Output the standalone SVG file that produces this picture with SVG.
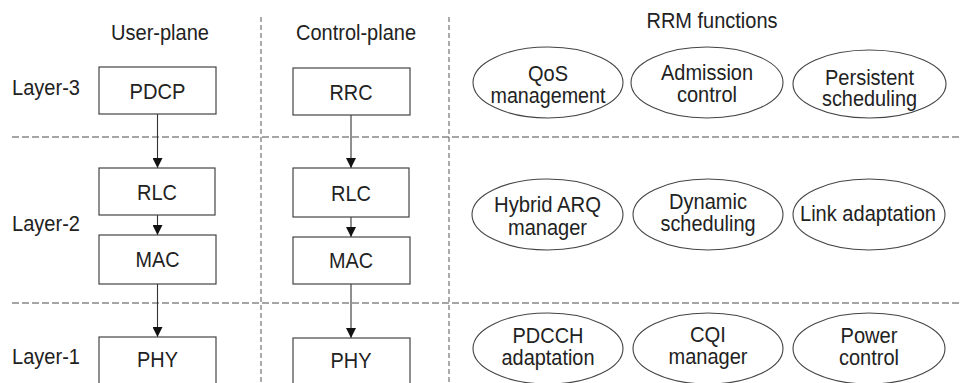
<svg xmlns="http://www.w3.org/2000/svg" width="960" height="383" viewBox="0 0 960 383">
<defs>
<style>
text{font-family:"Liberation Sans",Arial,sans-serif;font-size:22px;fill:#222;}
.c{text-anchor:middle;}
.box{fill:#fff;stroke:#444;stroke-width:1.2;}
.ell{fill:#fff;stroke:#444;stroke-width:1.1;}
.hd{stroke:#888;stroke-width:1.3;stroke-dasharray:7 3;fill:none;}
.vd{stroke:#555;stroke-width:1;stroke-dasharray:5 3;fill:none;}
.arr{stroke:#333;stroke-width:1.1;fill:none;marker-end:url(#ah);}
</style>
<marker id="ah" viewBox="0 0 10 10" refX="10" refY="5" markerWidth="10" markerHeight="10" markerUnits="userSpaceOnUse" orient="auto">
<path d="M0,0 L10,5 L0,10 z" fill="#111"/>
</marker>
</defs>
<g id="grid">
<line class="hd" x1="12" y1="137" x2="960" y2="137"/>
<line class="hd" x1="12" y1="303" x2="960" y2="303"/>
<line class="vd" x1="261" y1="17" x2="261" y2="383"/>
<line class="vd" x1="449" y1="17" x2="449" y2="383"/>
</g>
<g id="headers">
<text class="c" x="160" y="40" textLength="98" lengthAdjust="spacingAndGlyphs">User-plane</text>
<text class="c" x="356" y="40" textLength="120" lengthAdjust="spacingAndGlyphs">Control-plane</text>
<text class="c" x="712" y="28" textLength="131" lengthAdjust="spacingAndGlyphs">RRM functions</text>
<text x="12" y="95" textLength="68" lengthAdjust="spacingAndGlyphs">Layer-3</text>
<text x="12" y="231" textLength="68" lengthAdjust="spacingAndGlyphs">Layer-2</text>
<text x="12" y="364" textLength="68" lengthAdjust="spacingAndGlyphs">Layer-1</text>
</g>
<g id="connectors">
<line class="arr" x1="157.5" y1="114" x2="157.5" y2="168"/>
<line class="arr" x1="351" y1="115" x2="351" y2="168"/>
<line class="arr" x1="157.5" y1="215" x2="157.5" y2="235"/>
<line class="arr" x1="351" y1="217" x2="351" y2="237"/>
<line class="arr" x1="157.5" y1="284" x2="157.5" y2="337"/>
<line class="arr" x1="351" y1="284" x2="351" y2="338"/>
</g>
<g id="pdcp"><rect class="box" x="99" y="67" width="117" height="47"/><text class="c" x="157.5" y="99" textLength="56" lengthAdjust="spacingAndGlyphs">PDCP</text></g>
<g id="rrc"><rect class="box" x="293" y="68" width="117" height="47"/><text class="c" x="351" y="100" textLength="43" lengthAdjust="spacingAndGlyphs">RRC</text></g>
<g id="rlc-u"><rect class="box" x="99" y="168" width="116" height="47"/><text class="c" x="157" y="200" textLength="40" lengthAdjust="spacingAndGlyphs">RLC</text></g>
<g id="rlc-c"><rect class="box" x="293" y="168" width="116" height="49"/><text class="c" x="351" y="201" textLength="40" lengthAdjust="spacingAndGlyphs">RLC</text></g>
<g id="mac-u"><rect class="box" x="99" y="235" width="117" height="49"/><text class="c" x="157.5" y="267" textLength="44" lengthAdjust="spacingAndGlyphs">MAC</text></g>
<g id="mac-c"><rect class="box" x="293" y="237" width="117" height="47"/><text class="c" x="351" y="268" textLength="44" lengthAdjust="spacingAndGlyphs">MAC</text></g>
<g id="phy-u"><rect class="box" x="99" y="337" width="117" height="60"/><text class="c" x="157.5" y="367" textLength="41" lengthAdjust="spacingAndGlyphs">PHY</text></g>
<g id="phy-c"><rect class="box" x="293" y="338" width="117" height="60"/><text class="c" x="351" y="368" textLength="41" lengthAdjust="spacingAndGlyphs">PHY</text></g>
<g id="qos"><ellipse class="ell" cx="548" cy="82.5" rx="75" ry="35.5"/><text class="c" x="548" y="81" textLength="40" lengthAdjust="spacingAndGlyphs">QoS</text><text class="c" x="548" y="103" textLength="115" lengthAdjust="spacingAndGlyphs">management</text></g>
<g id="admission"><ellipse class="ell" cx="707" cy="82.5" rx="76" ry="35.5"/><text class="c" x="707" y="80" textLength="92" lengthAdjust="spacingAndGlyphs">Admission</text><text class="c" x="707" y="102" textLength="60" lengthAdjust="spacingAndGlyphs">control</text></g>
<g id="persistent"><ellipse class="ell" cx="869.5" cy="84" rx="76.5" ry="34"/><text class="c" x="869.5" y="85" textLength="89" lengthAdjust="spacingAndGlyphs">Persistent</text><text class="c" x="869.5" y="106" textLength="95" lengthAdjust="spacingAndGlyphs">scheduling</text></g>
<g id="harq"><ellipse class="ell" cx="547.5" cy="214.5" rx="75.5" ry="35.5"/><text class="c" x="547.5" y="212" textLength="107" lengthAdjust="spacingAndGlyphs">Hybrid ARQ</text><text class="c" x="547.5" y="235" textLength="79" lengthAdjust="spacingAndGlyphs">manager</text></g>
<g id="dynamic"><ellipse class="ell" cx="708" cy="214.5" rx="75" ry="35.5"/><text class="c" x="708" y="209" textLength="78" lengthAdjust="spacingAndGlyphs">Dynamic</text><text class="c" x="708" y="231" textLength="95" lengthAdjust="spacingAndGlyphs">scheduling</text></g>
<g id="link"><ellipse class="ell" cx="869" cy="214.5" rx="76" ry="35.5"/><text class="c" x="868" y="221" textLength="136" lengthAdjust="spacingAndGlyphs">Link adaptation</text></g>
<g id="pdcch"><ellipse class="ell" cx="548" cy="348.5" rx="75" ry="35.5"/><text class="c" x="548" y="343" textLength="71" lengthAdjust="spacingAndGlyphs">PDCCH</text><text class="c" x="548" y="365" textLength="93" lengthAdjust="spacingAndGlyphs">adaptation</text></g>
<g id="cqi"><ellipse class="ell" cx="708" cy="348.5" rx="75" ry="35.5"/><text class="c" x="708" y="342" textLength="36" lengthAdjust="spacingAndGlyphs">CQI</text><text class="c" x="708" y="364" textLength="79" lengthAdjust="spacingAndGlyphs">manager</text></g>
<g id="power"><ellipse class="ell" cx="869" cy="348.5" rx="76" ry="35.5"/><text class="c" x="869" y="343" textLength="57" lengthAdjust="spacingAndGlyphs">Power</text><text class="c" x="869" y="365" textLength="60" lengthAdjust="spacingAndGlyphs">control</text></g>
</svg>
